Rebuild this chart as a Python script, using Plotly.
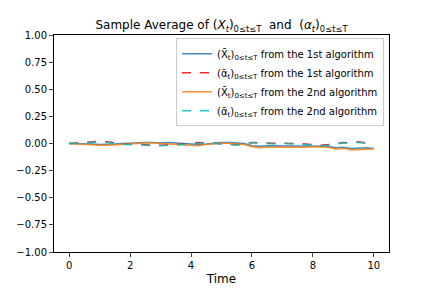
import numpy as np
import plotly.graph_objects as go

time = [i * 0.25 for i in range(41)]

x_alg1 = [0, 0, -0.005, -0.005, -0.01, -0.01, -0.005, 0, 0.005, 0.005,
          0.01, 0.01, 0.005, 0.01, 0.005, 0, 0, -0.01, -0.005, 0.005,
          0.01, 0.01, 0.005, 0, -0.02, -0.025, -0.02, -0.02, -0.025, -0.025,
          -0.025, -0.02, -0.02, -0.02, -0.025, -0.04, -0.035, -0.045, -0.04, -0.04,
          -0.045]
alpha_alg1 = [0, 0.005, 0.01, 0.015, 0.02, 0.015, 0.005, -0.005, -0.005, -0.01,
              -0.01, -0.015, -0.015, -0.015, -0.01, -0.005, 0.005, 0.01, 0.005, 0,
              -0.005, -0.01, -0.01, -0.005, 0.01, 0.005, 0.005, 0, 0, 0.005,
              0, -0.005, -0.01, -0.015, -0.01, 0, 0.01, 0.005, 0.015, 0.005,
              0.005]
x_alg2 = [0, -0.005, -0.01, -0.01, -0.015, -0.015, -0.01, -0.005, 0, 0,
          0.005, 0.005, 0, 0, -0.005, -0.01, -0.015, -0.02, -0.01, 0,
          0.005, 0, -0.005, -0.01, -0.03, -0.04, -0.035, -0.035, -0.035, -0.04,
          -0.04, -0.035, -0.03, -0.03, -0.035, -0.05, -0.045, -0.06, -0.055, -0.05,
          -0.05]
alpha_alg2 = [0, 0, 0.005, 0.01, 0.015, 0.01, 0, -0.01, -0.01, -0.015,
              -0.015, -0.02, -0.02, -0.015, -0.01, -0.005, 0, 0.005, 0.005, 0,
              -0.005, -0.01, -0.015, -0.01, 0.01, 0.005, 0, -0.005, 0, 0,
              -0.005, -0.01, -0.015, -0.02, -0.015, -0.005, 0.005, 0.005, 0.01, 0,
              0]

sub = "<sub>0≤t≤T</sub>"
names = [
    f"(X̄<sub>t</sub>){sub} from the 1st algorithm",
    f"(ᾱ<sub>t</sub>){sub} from the 1st algorithm",
    f"(X̄<sub>t</sub>){sub} from the 2nd algorithm",
    f"(ᾱ<sub>t</sub>){sub} from the 2nd algorithm",
]
series = [x_alg1, alpha_alg1, x_alg2, alpha_alg2]
colors = ["#1f77b4", "#ff0000", "#ff7f0e", "#00bfbf"]
dashes = ["solid", "dash", "solid", "dash"]

fig = go.Figure()
for nm, ys, c, d in zip(names, series, colors, dashes):
    fig.add_trace(go.Scatter(x=time, y=ys, mode="lines", name=nm,
                             line=dict(color=c, dash=d, width=1.5), opacity=0.85))

fig.update_layout(
    width=432, height=288,
    margin=dict(l=54, r=43, t=35, b=36, autoexpand=False),
    paper_bgcolor="white", plot_bgcolor="white",
    font=dict(family="DejaVu Sans", size=10, color="black"),
    title=dict(text=f"Sample Average of (<i>X<sub>t</sub></i>){sub}  and  (<i>α<sub>t</sub></i>){sub}",
               x=0.5, xref="paper", xanchor="center", y=1, yref="paper", yanchor="bottom",
               pad=dict(b=6), font=dict(size=12), automargin=False),
    showlegend=True,
    legend=dict(x=0.985, y=0.985, xanchor="right", yanchor="top",
                bgcolor="rgba(255,255,255,0.8)", bordercolor="#cccccc", borderwidth=1,
                font=dict(size=10), tracegroupgap=0, itemwidth=30),
    xaxis=dict(range=[-0.5, 10.5], tickvals=[0, 2, 4, 6, 8, 10], automargin=False,
               showline=True, linecolor="black", linewidth=1, mirror=True,
               ticks="outside", ticklen=4, showgrid=False, zeroline=False,
               title=dict(text="Time", font=dict(size=12), standoff=4)),
    yaxis=dict(range=[-1, 1], tickvals=[-1, -0.75, -0.5, -0.25, 0, 0.25, 0.5, 0.75, 1],
               tickformat=".2f", automargin=False,
               showline=True, linecolor="black", linewidth=1, mirror=True,
               ticks="outside", ticklen=4, showgrid=False, zeroline=False),
)
fig.write_html("out.html", config={"displayModeBar": False},
               post_script="document.body.style.margin='0';document.body.style.overflow='hidden';")
